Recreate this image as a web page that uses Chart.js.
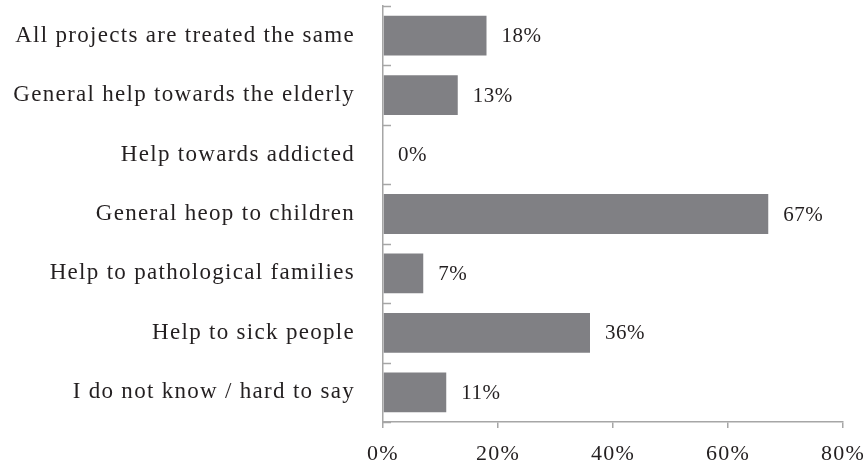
<!DOCTYPE html>
<html>
<head>
<meta charset="utf-8">
<script src="https://cdn.jsdelivr.net/npm/chart.js@4.4.0/dist/chart.umd.min.js"></script>
<style>
  html, body { margin: 0; padding: 0; background: #fff; }
  #wrap { width: 867px; height: 463px; position: relative; }
</style>
</head>
<body>
<div id="wrap"><canvas id="chart"></canvas></div>
<script>
// 类别与数值
const categories = [
  'All projects are treated the same',
  'General help towards the elderly',
  'Help towards addicted',
  'General heop to children',
  'Help to pathological families',
  'Help to sick people',
  'I do not know / hard to say'
];
const values = [18, 13, 0, 67, 7, 36, 11];
const xTicks = [0, 20, 40, 60, 80];

const FONT = '"Liberation Serif", "DejaVu Serif", serif';
const AXIS = '#a6a6a6';
const BAR = '#808084';
const TEXT = '#231f20';

// 坐标轴文字略微加宽字距
const spacing = {
  id: 'spacing',
  beforeDraw(chart) { chart.ctx.letterSpacing = '1.3px'; },
  beforeDatasetsDraw(chart) { chart.ctx.letterSpacing = '0px'; }
};

// 柱末端的数值标签
const valueLabels = {
  id: 'valueLabels',
  afterDatasetsDraw(chart) {
    const ctx = chart.ctx;
    const meta = chart.getDatasetMeta(0);
    ctx.save();
    ctx.font = '21px ' + FONT;
    ctx.fillStyle = TEXT;
    ctx.letterSpacing = '0.5px';
    ctx.textBaseline = 'middle';
    ctx.textAlign = 'left';
    meta.data.forEach((bar, i) => {
      ctx.fillText(values[i] + '%', bar.x + 15, bar.y + 1);
    });
    ctx.restore();
  }
};

// y轴刻度线画在轴的右侧
const innerTicks = {
  id: 'innerTicks',
  afterDraw(chart) {
    const y = chart.scales.y;
    const ctx = chart.ctx;
    const x0 = chart.scales.x.getPixelForValue(0);
    ctx.save();
    ctx.strokeStyle = AXIS;
    ctx.lineWidth = 1.5;
    for (let i = 0; i <= categories.length; i++) {
      const py = Math.round(y.getPixelForValue(i - 0.5)) + 0.5;
      ctx.beginPath();
      ctx.moveTo(x0, py);
      ctx.lineTo(x0 + 8, py);
      ctx.stroke();
    }
    ctx.restore();
  }
};

new Chart(document.getElementById('chart'), {
  type: 'bar',
  data: {
    labels: categories,
    datasets: [{
      data: values,
      backgroundColor: BAR,
      borderWidth: 0,
      barPercentage: 0.67,
      categoryPercentage: 1
    }]
  },
  options: {
    indexAxis: 'y',
    responsive: true,
    maintainAspectRatio: false,
    animation: false,
    layout: { padding: { top: 6, right: 24, left: 0, bottom: 0 } },
    plugins: { legend: { display: false }, tooltip: { enabled: false } },
    scales: {
      x: {
        min: 0,
        max: 80,
        afterBuildTicks(scale) { scale.ticks = xTicks.map(v => ({ value: v })); },
        afterFit(scale) { scale.height = 41; scale.paddingLeft = 0; scale.paddingRight = 0; },
        border: { display: true, color: AXIS, width: 1.5 },
        grid: { drawOnChartArea: false, drawTicks: true, tickLength: 6, color: AXIS, lineWidth: 1.5 },
        ticks: {
          color: TEXT,
          font: { family: FONT, size: 22 },
          padding: 13,
          maxRotation: 0,
          callback: v => v + '%'
        }
      },
      y: {
        offset: true,
        border: { display: true, color: AXIS, width: 1.5 },
        // 透明刻度线只用来留出标签与轴之间的空隙
        grid: { drawOnChartArea: false, drawTicks: true, tickLength: 28, color: 'transparent' },
        afterFit(scale) { scale.width = 383; scale.paddingTop = 0; scale.paddingBottom = 0; },
        ticks: {
          color: TEXT,
          font: { family: FONT, size: 23 },
          padding: 0
        }
      }
    }
  },
  plugins: [spacing, valueLabels, innerTicks]
});
</script>
</body>
</html>
